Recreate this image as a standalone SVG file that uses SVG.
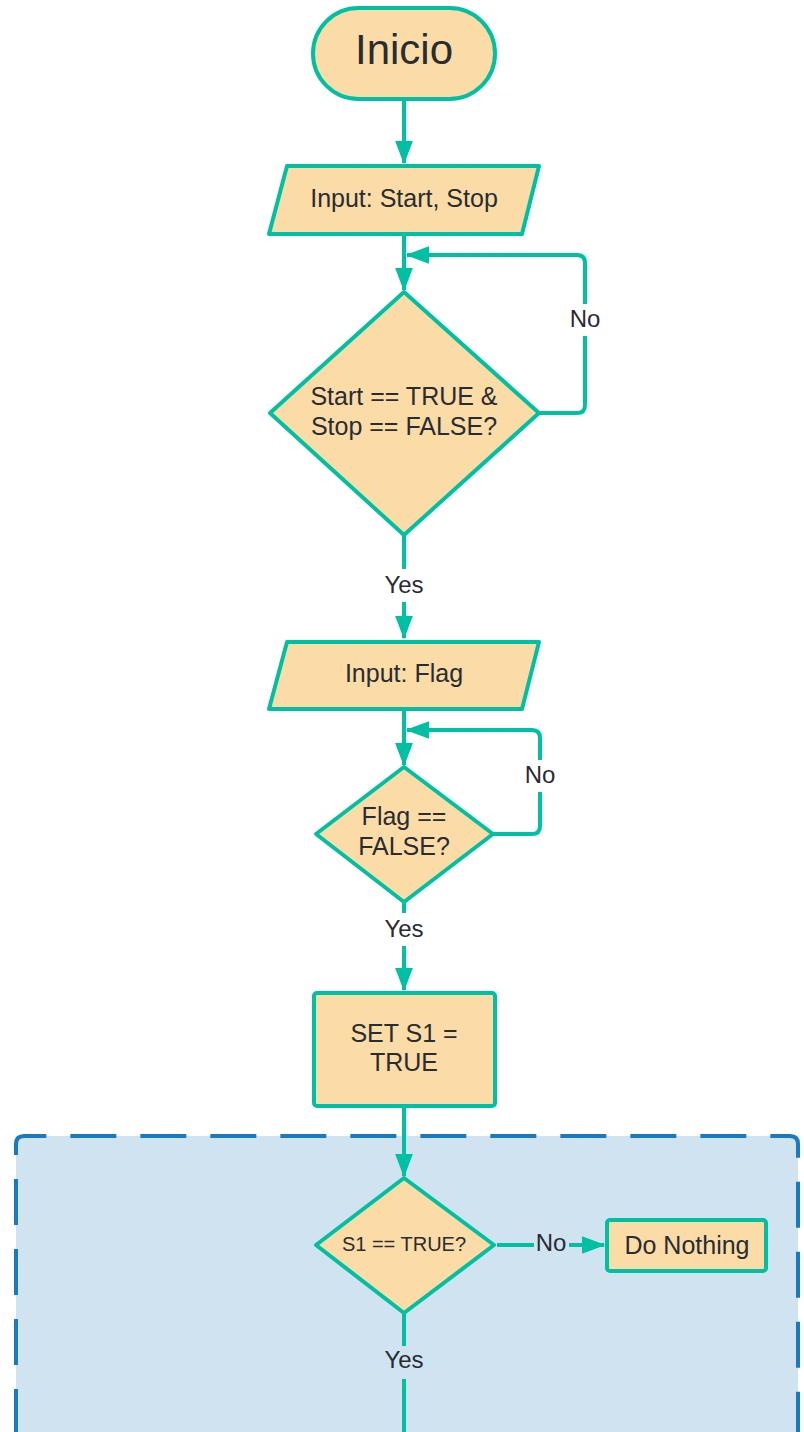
<svg xmlns="http://www.w3.org/2000/svg" width="804" height="1432" viewBox="0 0 804 1432">
  <style>
    .node { fill: #fcdca6; stroke: #00c0a3; stroke-width: 4; stroke-linejoin: round; }
    .edge { fill: none; stroke: #00c0a3; stroke-width: 4; stroke-linejoin: round; }
    .txt { font-family: "Liberation Sans", Arial, sans-serif; fill: #282c33; text-anchor: middle; }
    .t25 { font-size: 25px; }
    .lbl { font-size: 24px; }
  </style>
  <defs>
    <marker id="arrow" markerWidth="6" markerHeight="4.5" refX="5.6" refY="2.25" orient="auto" markerUnits="strokeWidth">
      <path d="M0,0 L6,2.25 L0,4.5 Z" fill="#00c0a3"/>
    </marker>
  </defs>

  <rect width="804" height="1432" fill="#ffffff"/>

  <!-- loop container: open at the bottom edge of the page -->
  <g id="container">
    <rect x="16" y="1136" width="782" height="400" rx="8" fill="#cfe3f0"/>
    <path d="M16,1432 V1144 Q16,1136 24,1136 H790 Q798,1136 798,1144 V1432" fill="none" stroke="#1a7ac0" stroke-width="4" stroke-dasharray="46 24" stroke-dashoffset="3"/>
  </g>

  <!-- connectors -->
  <g id="connectors">
    <path class="edge" d="M404,99 V163" marker-end="url(#arrow)"/>
    <path class="edge" d="M404,235 V290" marker-end="url(#arrow)"/>
    <path class="edge" d="M539,413 H577 Q585,413 585,405 V336"/>
    <path class="edge" d="M585,304 V263 Q585,255 577,255 H407" marker-end="url(#arrow)"/>
    <text class="txt lbl" x="585" y="327">No</text>
    <path class="edge" d="M404,535 V569"/>
    <path class="edge" d="M404,602 V638" marker-end="url(#arrow)"/>
    <text class="txt lbl" x="404" y="593">Yes</text>

    <path class="edge" d="M404,709 V765" marker-end="url(#arrow)"/>
    <path class="edge" d="M493,834 H532 Q540,834 540,826 V792"/>
    <path class="edge" d="M540,760 V738 Q540,730 532,730 H407" marker-end="url(#arrow)"/>
    <text class="txt lbl" x="540" y="783">No</text>
    <path class="edge" d="M404,902 V913"/>
    <path class="edge" d="M404,946 V990" marker-end="url(#arrow)"/>
    <text class="txt lbl" x="404" y="937">Yes</text>

    <path class="edge" d="M404,1107 V1176" marker-end="url(#arrow)"/>
    <path class="edge" d="M497,1245 H534"/>
    <path class="edge" d="M569,1245 H604" marker-end="url(#arrow)"/>
    <text class="txt lbl" x="551" y="1251">No</text>
    <path class="edge" d="M404,1313 V1346"/>
    <path class="edge" d="M404,1379 V1432"/>
    <text class="txt lbl" x="404" y="1368">Yes</text>
  </g>

  <!-- nodes -->
  <g id="inicio">
    <rect class="node" x="313" y="8" width="182" height="91" rx="45.5"/>
    <text class="txt" x="404" y="64" font-size="42">Inicio</text>
  </g>

  <g id="input-start-stop">
    <path class="node" d="M287,166 H539 L522,234 H269 Z"/>
    <text class="txt t25" x="404" y="207">Input: Start, Stop</text>
  </g>

  <g id="check-start-stop">
    <path class="node" d="M404,292 L539,413 L404,535 L270,413 Z"/>
    <text class="txt t25" x="404" y="405">Start == TRUE &amp;</text>
    <text class="txt t25" x="404" y="435">Stop == FALSE?</text>
  </g>

  <g id="input-flag">
    <path class="node" d="M287,642 H539 L522,709 H269 Z"/>
    <text class="txt t25" x="404" y="682">Input: Flag</text>
  </g>

  <g id="check-flag">
    <path class="node" d="M404,767 L493,834 L404,902 L316,834 Z"/>
    <text class="txt t25" x="404" y="825">Flag ==</text>
    <text class="txt t25" x="404" y="855">FALSE?</text>
  </g>

  <g id="set-s1">
    <rect class="node" x="314" y="993" width="181" height="113" rx="3"/>
    <text class="txt t25" x="404" y="1042">SET S1 =</text>
    <text class="txt t25" x="404" y="1071">TRUE</text>
  </g>

  <g id="check-s1">
    <path class="node" d="M404,1178 L494,1245 L404,1313 L316,1245 Z"/>
    <text class="txt" x="404" y="1251" font-size="20">S1 == TRUE?</text>
  </g>

  <g id="do-nothing">
    <rect class="node" x="607" y="1220" width="159" height="51" rx="3"/>
    <text class="txt t25" x="687" y="1254">Do Nothing</text>
  </g>
</svg>
